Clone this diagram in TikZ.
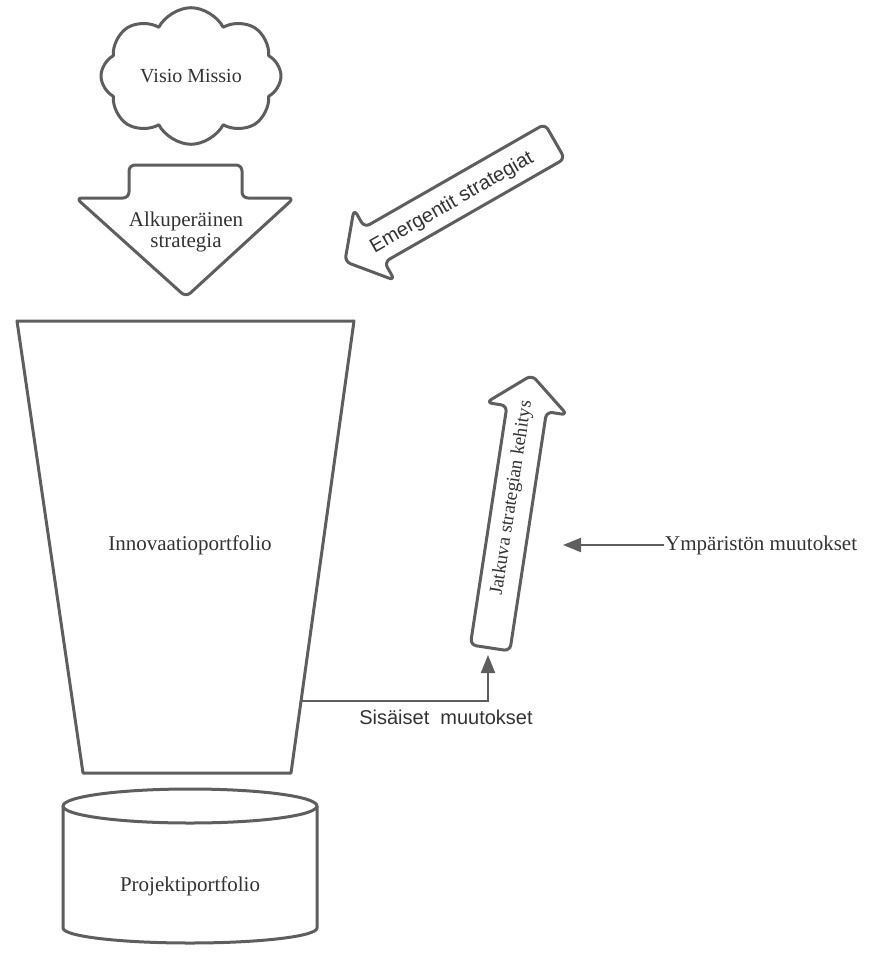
\documentclass[tikz,border=0pt]{standalone}
\usepackage{fontspec}
\setmainfont{Liberation Serif}
\newfontfamily\labelsans{Liberation Sans}
\usetikzlibrary{arrows.meta,shapes.symbols}
\definecolor{ink}{HTML}{5E5E5E}
\definecolor{txt}{HTML}{333333}
\tikzset{
  outline/.style={draw=ink, line width=3pt, line join=round, fill=white},
  serif/.style={font=\fontsize{21}{21}\selectfont, text=txt, align=center},
  sans/.style={font=\labelsans\fontsize{20}{22}\selectfont, text=txt},
  link/.style={draw=ink, line width=2pt, -{Triangle[length=18pt,width=14pt]}},
  blockarrow/.style={outline, rounded corners=6pt},
}
\begin{document}
\begin{tikzpicture}[x=1pt,y=1pt]
\useasboundingbox (0,0) rectangle (869,-954);

% vision cloud
\node[cloud, cloud puffs=8, cloud puff arc=125, aspect=1.4,
      minimum width=180pt, minimum height=132pt, outline, serif,
      font=\fontsize{20}{22}\selectfont] (vision) at (191,-76) {Visio Missio};

% original strategy: broad downward arrow
\draw[blockarrow] (186,-165) -- (242,-165) -- (242,-198) -- (294,-198)
  -- (186,-297) -- (76,-198) -- (129,-198) -- (129,-165) -- cycle;
\node[serif] (orig) at (186,-232) {Alkuperäinen\\strategia};

% innovation portfolio funnel
\draw[outline] (17,-321) -- (354,-321) -- (291,-773) -- (83,-773) -- cycle;
\node[serif] (innov) at (190,-545) {Innovaatioportfolio};

% project portfolio cylinder
\draw[outline] (63,-806) -- (63,-928)
  arc[start angle=180, end angle=360, x radius=127, y radius=15] -- (317,-806);
\draw[outline] (190,-806) ellipse[x radius=127, y radius=17];
\node[serif] (proj) at (190,-886) {Projektiportfolio};

% emergent strategies arrow
\begin{scope}[shift={(449,-202)}, rotate=209.8]
  \draw[blockarrow] (-122,0) -- (-122,-20) -- (86,-20) -- (86,-41) -- (120,0)
    -- (86,41) -- (86,20) -- (-122,20) -- cycle;
\end{scope}
\node[sans, rotate=29.8] (emerg) at (452,-203) {Emergentit strategiat};

% continuous strategy development arrow
\begin{scope}[shift={(511,-511.5)}, rotate=81.3]
  \draw[blockarrow] (-138,0) -- (-138,-20) -- (104,-20) -- (104,-41) -- (138,0)
    -- (104,41) -- (104,20) -- (-138,20) -- cycle;
\end{scope}
\node[serif, rotate=81.3, font=\fontsize{19}{21}\selectfont] (contin) at (512,-498)
  {Jatkuva strategian kehitys};

% internal changes
\coordinate (fR) at (300,-701);
\coordinate (jBase) at (488,-655);
\draw[link] (fR) -| (jBase);
\node[sans] (inner) at (446,-717) {Sisäiset\ \ muutokset};

% environmental changes
\node[serif, anchor=west, inner sep=1pt] (env) at (664,-545) {Ympäristön muutokset};
\coordinate (envTip) at (563,-545);
\draw[link] (env.west) -- (envTip);
\end{tikzpicture}
\end{document}
